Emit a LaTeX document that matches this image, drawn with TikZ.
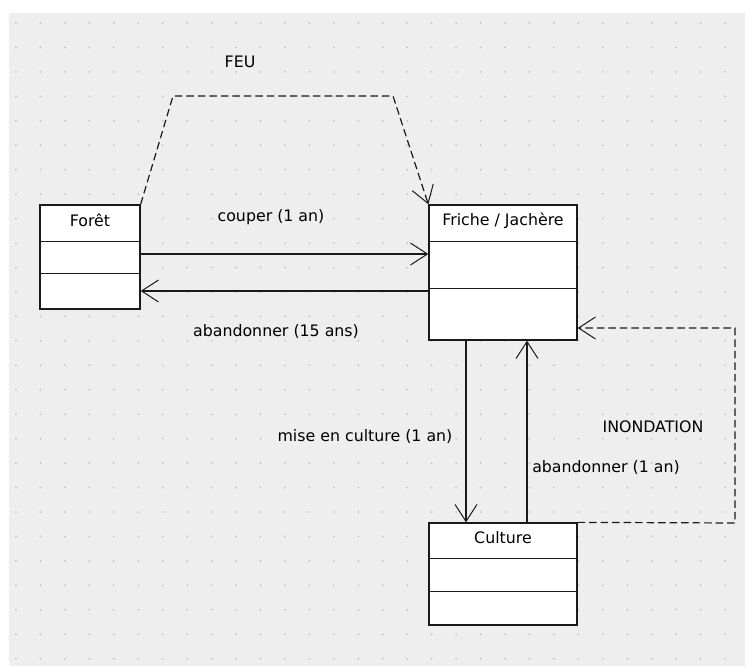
\documentclass[tikz,border=0pt]{standalone}
\usepackage{fontspec}
\setmainfont{DejaVu Sans}
\usetikzlibrary{arrows.meta,positioning,calc}
\definecolor{fond}{HTML}{EEEEEE}
\definecolor{grille}{HTML}{C2C2C2}
\definecolor{trait}{HTML}{1A1A1A}
\tikzset{
	classe/.style={draw=trait, fill=white, line width=1.3pt, inner sep=0pt},
	separ/.style={draw=trait, line width=1.3pt},
	etiq/.style={text=black, font=\fontsize{15.8}{18}\selectfont, inner sep=1pt},
	fleche/.style={draw=trait, line width=1.1pt, -{Straight Barb[length=17pt,width=22pt,line width=1pt]}},
	tirets/.style={fleche, line width=1.2pt, dash pattern=on 7.5pt off 4pt}
}

\begin{document}
\begin{tikzpicture}[x=1pt,y=-1pt]
	\useasboundingbox (0,0) rectangle (745,666);
	\fill[fond] (9,13) rectangle (745,666);
	% grille de points
	\foreach \i in {0,...,29}
		\foreach \j in {0,...,26}
			\fill[grille] ({16+24.45*\i},{23+24.45*\j}) circle (1);

	% les trois classes
	\node[classe, minimum width=100pt, minimum height=104pt] (foret) at (90,257) {};
	\node[classe, minimum width=148pt, minimum height=135pt] (friche) at (503,272.5) {};
	\node[classe, minimum width=148pt, minimum height=102pt] (culture) at (503,574) {};
	\foreach \n/\a/\b in {foret/37/69, friche/37/84, culture/36/69}{
		\draw[separ] ([yshift=-\a pt]\n.north west) -- ([yshift=-\a pt]\n.north east);
		\draw[separ] ([yshift=-\b pt]\n.north west) -- ([yshift=-\b pt]\n.north east);
	}
	\node[etiq] (foretT) at ([yshift=-16pt]foret.north) {Forêt};
	\node[etiq] (fricheT) at ([yshift=-16pt]friche.north) {Friche / Jachère};
	\node[etiq] (cultureT) at ([yshift=-15pt]culture.north) {Culture};

	% transitions
	\coordinate (cA) at ([yshift=18.5pt]friche.west);
	\coordinate (cB) at ([yshift=-18.5pt]friche.west);
	\draw[fleche] (foret.east |- cA) -- (cA);
	\draw[fleche] (cB) -- (foret.east |- cB);
	\coordinate (mA) at ([xshift=-37pt]friche.south);
	\coordinate (mB) at ([xshift=24pt]friche.south);
	\draw[fleche] (mA) -- (mA |- culture.north);
	\draw[fleche] (mB |- culture.north) -- (mB);

	% evenements
	\coordinate (feuA) at (173,96);
	\coordinate (feuB) at (393,96);
	\draw[tirets] (foret.north east) -- (feuA) -- (feuB) -- (friche.north west);
	\coordinate (inA) at (735,523);
	\coordinate (inB) at (735,328);
	\draw[tirets] (culture.north east) -- (inA) -- (inB) -- (friche.east |- inB);

	% libelles
	\node[etiq] (lFeu) at (240,62) {FEU};
	\node[etiq] (lCouper) at (271,217) {couper (1 an)};
	\node[etiq] (lAband) at (276,332) {abandonner (15 ans)};
	\node[etiq] (lMise) at (365,437) {mise en culture (1 an)};
	\node[etiq] (lAbandC) at (606,468) {abandonner (1 an)};
	\node[etiq] (lInond) at (653,427) {INONDATION};
\end{tikzpicture}
\end{document}
